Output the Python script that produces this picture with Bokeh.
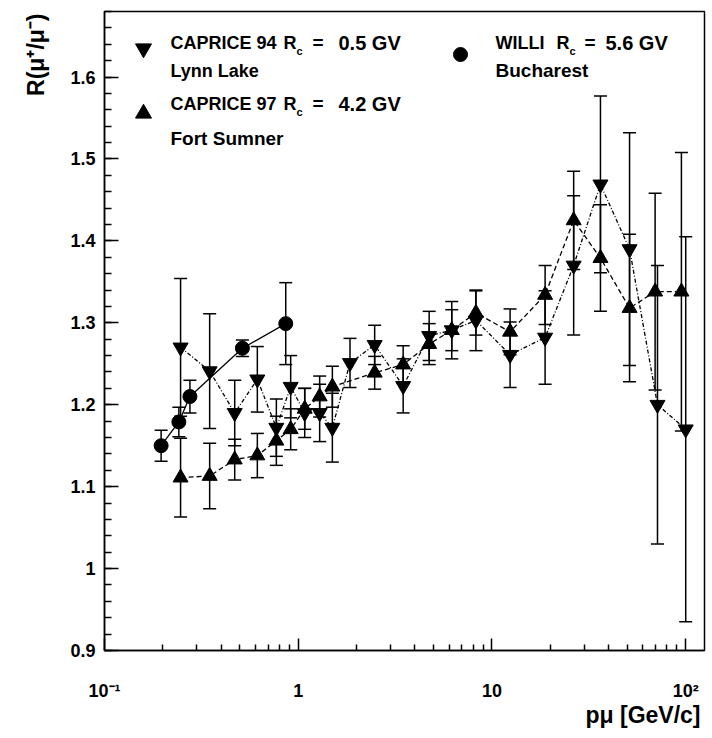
import math
from bokeh.plotting import figure
from bokeh.models import (Range1d, FixedTicker, CustomJSTickFormatter, Whisker,
                          TeeHead, ColumnDataSource, Label, Title)
from bokeh.embed import file_html
from bokeh.resources import INLINE

# ---------------- data ----------------
willi_p = [0.196, 0.242, 0.276, 0.515, 0.862]
willi_r = [1.150, 1.179, 1.210, 1.269, 1.299]
willi_e = [0.019, 0.018, 0.020, 0.010, 0.050]

c94_p = [0.247, 0.349, 0.470, 0.615, 0.771, 0.914, 1.08, 1.29, 1.50, 1.85, 2.48,
         3.48, 4.74, 6.2, 8.26, 12.4, 18.8, 26.4, 36.3, 51.3, 71.5, 100.0]
c94_r = [1.270, 1.241, 1.190, 1.231, 1.172, 1.222, 1.190, 1.190, 1.172, 1.251, 1.273,
         1.223, 1.284, 1.291, 1.303, 1.261, 1.282, 1.370, 1.469, 1.390, 1.200, 1.170]
c94_e = [0.084, 0.070, 0.040, 0.040, 0.035, 0.038, 0.030, 0.035, 0.042, 0.030, 0.024,
         0.033, 0.030, 0.035, 0.037, 0.040, 0.057, 0.085, 0.108, 0.142, 0.170, 0.235]

c97_p = [0.247, 0.349, 0.470, 0.615, 0.771, 0.914, 1.08, 1.29, 1.50, 2.48, 3.48,
         4.74, 6.2, 8.26, 12.4, 18.8, 26.4, 36.3, 51.3, 69.5, 95.0]
c97_r = [1.111, 1.113, 1.133, 1.138, 1.156, 1.170, 1.195, 1.210, 1.222, 1.239, 1.249,
         1.274, 1.291, 1.312, 1.289, 1.334, 1.425, 1.379, 1.318, 1.338, 1.338]
c97_e = [0.048, 0.040, 0.025, 0.027, 0.030, 0.025, 0.025, 0.025, 0.025, 0.020, 0.023,
         0.025, 0.025, 0.027, 0.028, 0.036, 0.060, 0.065, 0.090, 0.120, 0.170]

y_ticks = [0.9, 1.0, 1.1, 1.2, 1.3, 1.4, 1.5, 1.6]
x_ticks = [0.1, 1.0, 10.0, 100.0]

# ---------------- layout ----------------
W, H = 712, 738
FL, FR, FT, FB = 104, 704, 11, 650
X0, X1 = 0.1, 125.0
Y0, Y1 = 0.9, 1.68
FONT = "Liberation Sans"

p = figure(width=W, height=H, x_axis_type="log",
           x_range=Range1d(X0, X1), y_range=Range1d(Y0, Y1),
           output_backend="svg", toolbar_location=None,
           min_border_left=FL, min_border_right=W - FR,
           min_border_top=FT, min_border_bottom=H - FB)
p.grid.visible = False
p.outline_line_color = "black"
p.outline_line_width = 1.5
p.background_fill_color = "white"
p.border_fill_color = "white"

# axes
p.yaxis.ticker = FixedTicker(ticks=y_ticks,
                             minor_ticks=[round(0.9 + 0.02 * i, 2) for i in range(40)])
p.yaxis.formatter = CustomJSTickFormatter(code="""
    const s = tick.toFixed(1);
    return s === "1.0" ? "1" : s;
""")
minor_x = []
for d in [0.1, 1.0, 10.0]:
    for k in range(2, 10):
        minor_x.append(d * k)
p.xaxis.ticker = FixedTicker(ticks=x_ticks, minor_ticks=minor_x)
p.xaxis.formatter = CustomJSTickFormatter(code="""
    const e = Math.round(Math.log10(tick));
    if (e === -1) return "10\u207b\u00b9";
    if (e === 0) return "1";
    if (e === 1) return "10";
    if (e === 2) return "10\u00b2";
    return "" + tick;
""")
for ax in (p.xaxis[0], p.yaxis[0]):
    ax.axis_line_width = 1.5
    ax.major_tick_line_width = 1.5
    ax.minor_tick_line_width = 1.5
    ax.major_tick_out = 0
    ax.minor_tick_out = 0
    ax.major_label_text_font = FONT
    ax.major_label_text_font_style = "bold"
    ax.major_label_text_font_size = "18px"
    ax.major_label_text_color = "black"
p.xaxis.major_tick_in = 12
p.xaxis.minor_tick_in = 6
p.yaxis.major_tick_in = 14
p.yaxis.minor_tick_in = 7
p.xaxis.major_label_standoff = 30
p.yaxis.major_label_standoff = 9

# axis titles placed at the ends of the axes
p.add_layout(Title(text="R(\u03bc\u207a/\u03bc\u207b)", align="right", offset=2,
                   vertical_align="top", standoff=34, text_font=FONT,
                   text_font_style="bold", text_font_size="23px",
                   text_color="black"), "left")
p.add_layout(Title(text="p\u03bc [GeV/c]", align="right", offset=4, standoff=-8,
                   text_font=FONT, text_font_style="bold",
                   text_font_size="23px", text_color="black"), "below")

# ---------------- series ----------------
def add_series(px, r, e, marker, size, dash):
    src = ColumnDataSource(dict(x=px, y=r, up=[a + b for a, b in zip(r, e)],
                                lo=[a - b for a, b in zip(r, e)]))
    p.line("x", "y", source=src, line_color="black", line_width=1.3, line_dash=dash)
    p.add_layout(Whisker(base="x", upper="up", lower="lo", source=src,
                         dimension="height", line_color="black", line_width=1.5,
                         upper_head=TeeHead(size=13, line_width=1.5, line_color="black"),
                         lower_head=TeeHead(size=13, line_width=1.5, line_color="black")))
    p.scatter("x", "y", source=src, marker=marker, size=size,
              fill_color="black", line_color="black")

add_series(c97_p, c97_r, c97_e, "triangle", 15, "5 3")
add_series(c94_p, c94_r, c94_e, "inverted_triangle", 15, "4 2 1 2")
add_series(willi_p, willi_r, willi_e, "circle", 14, "solid")

# ---------------- legend ----------------
def to_data(px, py):
    lx = math.log10(X0) + (px - FL) / (FR - FL) * (math.log10(X1) - math.log10(X0))
    y = Y0 + (FB - py) / (FB - FT) * (Y1 - Y0)
    return 10 ** lx, y

def label(text, px, py, size=18, align="left", baseline="middle", angle=0.0):
    p.add_layout(Label(x=px - FL, y=FB - py, x_units="screen", y_units="screen",
                       text=text, text_font=FONT, text_font_style="bold",
                       text_font_size=f"{size}px", text_align=align,
                       text_baseline=baseline, angle=angle, text_color="black"))

legend_markers = [("inverted_triangle", 143, 48, 16), ("triangle", 143, 113, 16),
                  ("circle", 460, 54, 14)]
for mk, mx, my, ms in legend_markers:
    dx, dy = to_data(mx, my)
    p.scatter([dx], [dy], marker=mk, size=ms, fill_color="black", line_color="black")

label("CAPRICE 94", 170, 42)
label("R", 283, 42)
label("c", 296, 50, size=11)
label("=", 312, 42, size=19)
label("0.5 GV", 338, 42, size=20)
label("Lynn Lake", 170, 70)

label("CAPRICE 97", 170, 103)
label("R", 283, 103)
label("c", 296, 111, size=11)
label("=", 312, 103, size=19)
label("4.2 GV", 338, 103, size=20)
label("Fort Sumner", 170, 138, size=19)

label("WILLI", 495, 42)
label("R", 556, 42)
label("c", 569, 50, size=11)
label("=", 584, 42, size=19)
label("5.6 GV", 605, 42, size=20)
label("Bucharest", 495, 70, size=19)

open("out.html", "w").write(file_html(p, INLINE))
